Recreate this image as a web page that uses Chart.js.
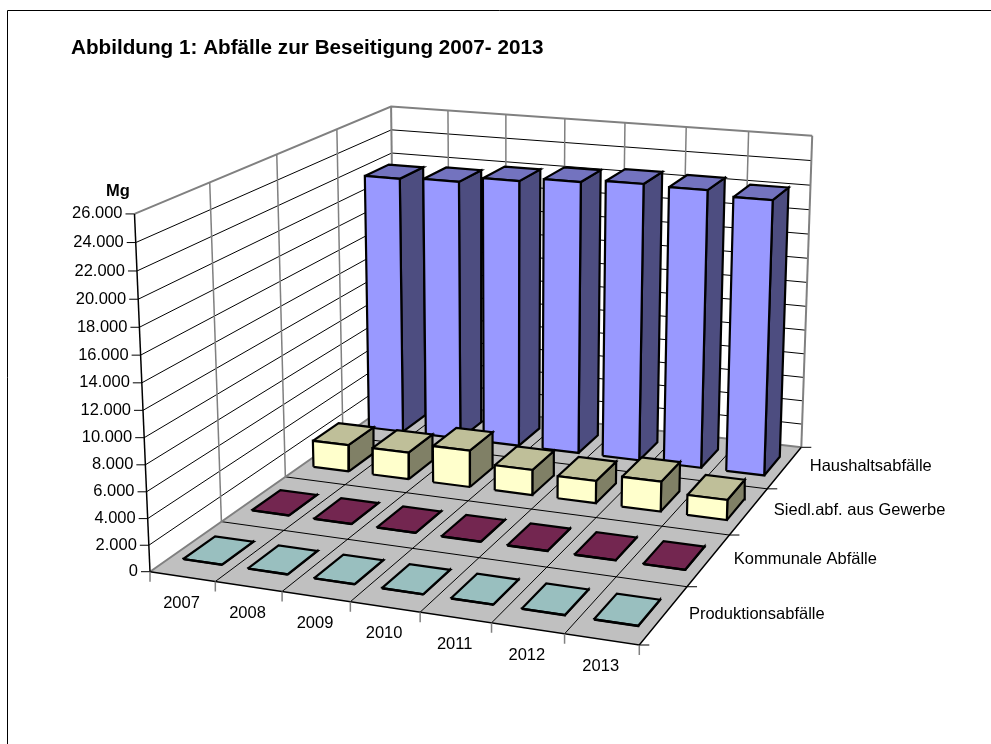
<!DOCTYPE html>
<html>
<head>
<meta charset="utf-8">
<style>
  html, body { margin: 0; padding: 0; background: #fff; overflow: hidden; }
  canvas { display: block; }
</style>
<script src="https://cdn.jsdelivr.net/npm/chart.js@4/dist/chart.umd.min.js"></script>
</head>
<body>
<canvas id="chart" width="991" height="744"></canvas>
<script>
// data, front row first
const years = ['2007', '2008', '2009', '2010', '2011', '2012', '2013'];
const seriesNames = ['Produktionsabfälle', 'Kommunale Abfälle', 'Siedl.abf. aus Gewerbe', 'Haushaltsabfälle'];
const produktion = [20, 20, 20, 20, 20, 20, 20];
const kommunal = [20, 20, 20, 20, 20, 20, 20];
const gewerbe = [2200, 2200, 3000, 2050, 1800, 2400, 1600];
const haushalt = [21650, 21790, 22250, 22570, 22810, 22720, 22340];
const yTicks = [0, 2000, 4000, 6000, 8000, 10000, 12000, 14000, 16000, 18000, 20000, 22000, 24000, 26000];
const yMax = 26000;

const seriesValues = [produktion, kommunal, gewerbe, haushalt];
// front, top, side
const seriesColors = [
    ['#CCFFFF', '#99BFBF', '#668080'],
    ['#993366', '#732650', '#4D1A33'],
    ['#FFFFCC', '#BFBF99', '#808066'],
    ['#9999FF', '#7373BF', '#4D4D80']
];

// corners of the 3D box as they land on the page
const floorFL = [150, 571.7], floorFR = [639.3, 645], floorBR = [801.3, 447.3], floorBL = [395, 400];
const topFL = [134.5, 213.5], topBL = [391, 106.7], topBR = [812.3, 136];
const barInsetCat = 0.2, barInsetSer = 0.275;

function solve(A, b) {
    const n = b.length;
    const M = A.map((row, i) => [...row, b[i]]);
    for (let i = 0; i < n; i++) {
        let p = i;
        for (let r = i + 1; r < n; r++) if (Math.abs(M[r][i]) > Math.abs(M[p][i])) p = r;
        [M[i], M[p]] = [M[p], M[i]];
        for (let r = 0; r < n; r++) {
            if (r === i) continue;
            const f = M[r][i] / M[i][i];
            for (let c = i; c <= n; c++) M[r][c] -= f * M[i][c];
        }
    }
    return M.map((row, i) => row[n] / row[i]);
}

// floor homography from unit square
function floorMatrix() {
    const src = [[0, 0], [1, 0], [1, 1], [0, 1]];
    const dst = [floorFL, floorFR, floorBR, floorBL];
    const A = [], b = [];
    src.forEach(([u, v], i) => {
        const [x, y] = dst[i];
        A.push([u, v, 1, 0, 0, 0, -u * x, -v * x]); b.push(x);
        A.push([0, 0, 0, u, v, 1, -u * y, -v * y]); b.push(y);
    });
    const h = solve(A, b);
    return [[h[0], h[1], h[2]], [h[3], h[4], h[5]], [h[6], h[7], 1]];
}
const H = floorMatrix();
const floorH = (u, v) => H.map(r => r[0] * u + r[1] * v + r[2]);

// vertical column of the camera, least squares on the three known top corners
function heightColumn() {
    const rows = [], rhs = [];
    [[0, 0, topFL], [0, 1, topBL], [1, 1, topBR]].forEach(([u, v, t]) => {
        const [x, y, l] = floorH(u, v);
        rows.push([1, 0, -t[0]]); rhs.push(l * t[0] - x);
        rows.push([0, 1, -t[1]]); rhs.push(l * t[1] - y);
    });
    const AtA = [0, 1, 2].map(i => [0, 1, 2].map(j => rows.reduce((s, r) => s + r[i] * r[j], 0)));
    const Atb = [0, 1, 2].map(i => rows.reduce((s, r, k) => s + r[i] * rhs[k], 0));
    return solve(AtA, Atb);
}
const Z = heightColumn();

// cat 0..7, ser 0..4, val in Mg
function project(cat, ser, val) {
    const p = floorH(cat / years.length, ser / seriesNames.length);
    const w = val / yMax;
    const d = p[2] + w * Z[2];
    return { x: (p[0] + w * Z[0]) / d, y: (p[1] + w * Z[1]) / d };
}

const paint = [];

function addLine(points, color, width) {
    paint.push({ data: points, showLine: true, fill: false, borderColor: color, borderWidth: width, pointRadius: 0, tension: 0 });
}

function addFace(points, color, width) {
    paint.push({
        data: [...points, points[0]], showLine: true, fill: 'shape', backgroundColor: color,
        borderColor: '#000', borderWidth: width, pointRadius: 0, tension: 0, borderJoinStyle: 'miter'
    });
}

const nCat = years.length, nSer = seriesNames.length;
const gray = '#808080';

// walls
addFace([project(0, 0, 0), project(0, nSer, 0), project(0, nSer, yMax), project(0, 0, yMax)], '#fff', 0);
addFace([project(0, nSer, 0), project(nCat, nSer, 0), project(nCat, nSer, yMax), project(0, nSer, yMax)], '#fff', 0);
yTicks.forEach(t => {
    if (t === 0 || t === yMax) return;
    addLine([project(0, 0, t), project(0, nSer, t), project(nCat, nSer, t)], '#000', 1);
});
for (let s = 1; s < nSer; s++) addLine([project(0, s, 0), project(0, s, yMax)], gray, 1.5);
for (let c = 1; c < nCat; c++) addLine([project(c, nSer, 0), project(c, nSer, yMax)], gray, 1.5);
addLine([project(0, nSer, 0), project(0, nSer, yMax)], gray, 2);
addLine([project(nCat, nSer, 0), project(nCat, nSer, yMax)], gray, 2);
addLine([project(0, 0, yMax), project(0, nSer, yMax), project(nCat, nSer, yMax)], gray, 2);

// floor
addFace([project(0, 0, 0), project(nCat, 0, 0), project(nCat, nSer, 0), project(0, nSer, 0)], '#C0C0C0', 0);
for (let c = 1; c < nCat; c++) addLine([project(c, 0, 0), project(c, nSer, 0)], '#000', 1);
for (let s = 1; s < nSer; s++) addLine([project(0, s, 0), project(nCat, s, 0)], '#000', 1);
addLine([project(0, 0, 0), project(0, nSer, 0), project(nCat, nSer, 0)], gray, 2);
addLine([project(0, 0, 0), project(nCat, 0, 0), project(nCat, nSer, 0)], '#000', 1.5);

// axis line and ticks
addLine([project(0, 0, 0), project(0, 0, yMax)], '#000', 1.5);
yTicks.forEach(t => {
    const p = project(0, 0, t);
    addLine([{ x: p.x - 9, y: p.y }, p], '#000', 1);
});
for (let c = 0; c <= nCat; c++) {
    const p = project(c, 0, 0);
    addLine([p, { x: p.x, y: p.y + 10 }], gray, 1.5);
}
for (let s = 0; s <= nSer; s++) {
    const p = project(nCat, s, 0);
    addLine([p, { x: p.x + 10, y: p.y }], '#000', 1);
}

// bars, back row first, left to right
for (let s = nSer - 1; s >= 0; s--) {
    const [front, top, side] = seriesColors[s];
    seriesValues[s].forEach((val, c) => {
        const c0 = c + barInsetCat, c1 = c + 1 - barInsetCat, s0 = s + barInsetSer, s1 = s + 1 - barInsetSer;
        addFace([project(c1, s0, 0), project(c1, s1, 0), project(c1, s1, val), project(c1, s0, val)], side, 2.2);
        addFace([project(c0, s0, val), project(c1, s0, val), project(c1, s1, val), project(c0, s1, val)], top, 2.2);
        addFace([project(c0, s0, 0), project(c1, s0, 0), project(c1, s0, val), project(c0, s0, val)], front, 2.2);
    });
}

// page frame, only top and left edge are visible
addLine([{ x: 7.5, y: 744 }, { x: 7.5, y: 10.5 }, { x: 991, y: 10.5 }], '#000', 1);

// chart.js paints the lowest order last
paint.forEach((d, i) => { d.order = paint.length - i; d.clip = false; });

const labelPlugin = {
    id: 'labels3d',
    afterDatasetsDraw(chart) {
        const { ctx, scales: { x, y } } = chart;
        const px = p => ({ x: x.getPixelForValue(p.x), y: y.getPixelForValue(p.y) });
        ctx.save();
        ctx.fillStyle = '#000';
        ctx.textBaseline = 'alphabetic';
        ctx.font = 'bold 20.7px "Liberation Sans"';
        ctx.textAlign = 'left';
        ctx.fillText('Abbildung 1: Abfälle zur Beseitigung 2007- 2013', 71, 54);
        ctx.textBaseline = 'middle';
        ctx.font = 'bold 16.5px "Liberation Sans"';
        ctx.textAlign = 'center';
        ctx.fillText('Mg', 118, 191);

        ctx.font = '16.5px "Liberation Sans"';
        ctx.textAlign = 'right';
        yTicks.forEach(t => {
            const p = px(project(0, 0, t));
            ctx.fillText(t.toLocaleString('de-DE'), p.x - 12, p.y);
        });
        ctx.textAlign = 'center';
        years.forEach((label, c) => {
            const p = px(project(c + 0.5, 0, 0));
            ctx.fillText(label, p.x - 1, p.y + 27);
        });
        ctx.textAlign = 'left';
        seriesNames.forEach((label, s) => {
            const p = px(project(nCat, s + 0.5, 0));
            ctx.fillText(label, p.x + 25, p.y - 1);
        });
        ctx.restore();
    }
};

new Chart(document.getElementById('chart'), {
    type: 'scatter',
    data: { datasets: paint },
    plugins: [labelPlugin],
    options: {
        responsive: false,
        animation: false,
        layout: { padding: 0 },
        plugins: { legend: { display: false }, tooltip: { enabled: false }, title: { display: false } },
        scales: {
            x: { type: 'linear', display: false, min: 0, max: 991 },
            y: { type: 'linear', display: false, min: 0, max: 744, reverse: true }
        }
    }
});
</script>
</body>
</html>
